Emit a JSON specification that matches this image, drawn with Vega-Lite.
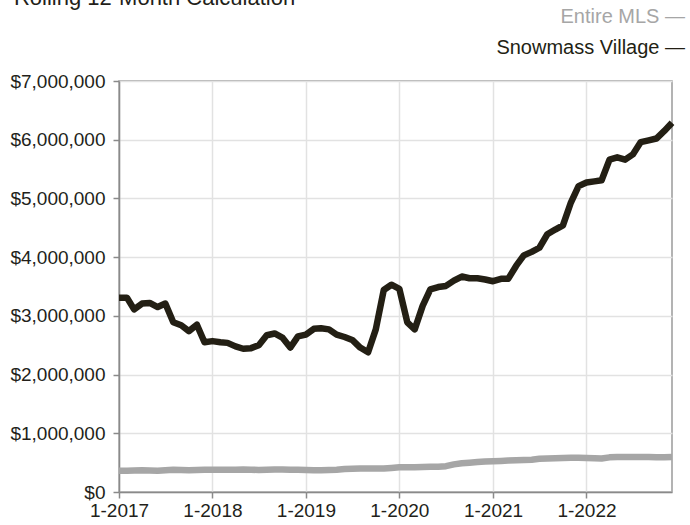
{
  "$schema": "https://vega.github.io/schema/vega-lite/v6.json",
  "autosize": "none",
  "width": 553,
  "height": 411,
  "padding": {"left": 119, "top": 81, "right": 18, "bottom": 33},
  "background": "white",
  "title": {
    "text": "Rolling 12-Month Calculation",
    "anchor": "start",
    "frame": "bounds",
    "offset": -20,
    "dx": 4,
    "baseline": "alphabetic",
    "fontSize": 22,
    "font": "Liberation Sans",
    "fontWeight": "normal",
    "color": "#231f1a"
  },
  "config": {
    "font": "Liberation Sans",
    "view": {"stroke": "#9a9a9a", "strokeWidth": 1.5}
  },
  "data": {
    "values": [
      {"d": "2017-01-01", "Snowmass Village": 3310000, "Entire MLS": 360000},
      {"d": "2017-02-01", "Snowmass Village": 3310000, "Entire MLS": 360000},
      {"d": "2017-03-01", "Snowmass Village": 3110000, "Entire MLS": 365000},
      {"d": "2017-04-01", "Snowmass Village": 3210000, "Entire MLS": 370000},
      {"d": "2017-05-01", "Snowmass Village": 3220000, "Entire MLS": 365000},
      {"d": "2017-06-01", "Snowmass Village": 3150000, "Entire MLS": 360000},
      {"d": "2017-07-01", "Snowmass Village": 3210000, "Entire MLS": 370000},
      {"d": "2017-08-01", "Snowmass Village": 2890000, "Entire MLS": 380000},
      {"d": "2017-09-01", "Snowmass Village": 2840000, "Entire MLS": 375000},
      {"d": "2017-10-01", "Snowmass Village": 2740000, "Entire MLS": 370000},
      {"d": "2017-11-01", "Snowmass Village": 2850000, "Entire MLS": 375000},
      {"d": "2017-12-01", "Snowmass Village": 2550000, "Entire MLS": 380000},
      {"d": "2018-01-01", "Snowmass Village": 2570000, "Entire MLS": 380000},
      {"d": "2018-02-01", "Snowmass Village": 2550000, "Entire MLS": 380000},
      {"d": "2018-03-01", "Snowmass Village": 2540000, "Entire MLS": 380000},
      {"d": "2018-04-01", "Snowmass Village": 2480000, "Entire MLS": 380000},
      {"d": "2018-05-01", "Snowmass Village": 2440000, "Entire MLS": 385000},
      {"d": "2018-06-01", "Snowmass Village": 2450000, "Entire MLS": 380000},
      {"d": "2018-07-01", "Snowmass Village": 2500000, "Entire MLS": 375000},
      {"d": "2018-08-01", "Snowmass Village": 2670000, "Entire MLS": 380000},
      {"d": "2018-09-01", "Snowmass Village": 2700000, "Entire MLS": 385000},
      {"d": "2018-10-01", "Snowmass Village": 2630000, "Entire MLS": 385000},
      {"d": "2018-11-01", "Snowmass Village": 2460000, "Entire MLS": 380000},
      {"d": "2018-12-01", "Snowmass Village": 2650000, "Entire MLS": 380000},
      {"d": "2019-01-01", "Snowmass Village": 2680000, "Entire MLS": 375000},
      {"d": "2019-02-01", "Snowmass Village": 2780000, "Entire MLS": 370000},
      {"d": "2019-03-01", "Snowmass Village": 2790000, "Entire MLS": 370000},
      {"d": "2019-04-01", "Snowmass Village": 2770000, "Entire MLS": 375000},
      {"d": "2019-05-01", "Snowmass Village": 2680000, "Entire MLS": 380000},
      {"d": "2019-06-01", "Snowmass Village": 2640000, "Entire MLS": 390000},
      {"d": "2019-07-01", "Snowmass Village": 2590000, "Entire MLS": 395000},
      {"d": "2019-08-01", "Snowmass Village": 2460000, "Entire MLS": 400000},
      {"d": "2019-09-01", "Snowmass Village": 2380000, "Entire MLS": 400000},
      {"d": "2019-10-01", "Snowmass Village": 2770000, "Entire MLS": 400000},
      {"d": "2019-11-01", "Snowmass Village": 3440000, "Entire MLS": 400000},
      {"d": "2019-12-01", "Snowmass Village": 3530000, "Entire MLS": 410000},
      {"d": "2020-01-01", "Snowmass Village": 3460000, "Entire MLS": 420000},
      {"d": "2020-02-01", "Snowmass Village": 2890000, "Entire MLS": 420000},
      {"d": "2020-03-01", "Snowmass Village": 2770000, "Entire MLS": 420000},
      {"d": "2020-04-01", "Snowmass Village": 3170000, "Entire MLS": 425000},
      {"d": "2020-05-01", "Snowmass Village": 3450000, "Entire MLS": 430000},
      {"d": "2020-06-01", "Snowmass Village": 3490000, "Entire MLS": 430000},
      {"d": "2020-07-01", "Snowmass Village": 3510000, "Entire MLS": 440000},
      {"d": "2020-08-01", "Snowmass Village": 3600000, "Entire MLS": 470000},
      {"d": "2020-09-01", "Snowmass Village": 3670000, "Entire MLS": 490000},
      {"d": "2020-10-01", "Snowmass Village": 3640000, "Entire MLS": 500000},
      {"d": "2020-11-01", "Snowmass Village": 3640000, "Entire MLS": 510000},
      {"d": "2020-12-01", "Snowmass Village": 3620000, "Entire MLS": 520000},
      {"d": "2021-01-01", "Snowmass Village": 3590000, "Entire MLS": 525000},
      {"d": "2021-02-01", "Snowmass Village": 3630000, "Entire MLS": 530000},
      {"d": "2021-03-01", "Snowmass Village": 3630000, "Entire MLS": 535000},
      {"d": "2021-04-01", "Snowmass Village": 3850000, "Entire MLS": 540000},
      {"d": "2021-05-01", "Snowmass Village": 4030000, "Entire MLS": 545000},
      {"d": "2021-06-01", "Snowmass Village": 4090000, "Entire MLS": 550000},
      {"d": "2021-07-01", "Snowmass Village": 4160000, "Entire MLS": 565000},
      {"d": "2021-08-01", "Snowmass Village": 4390000, "Entire MLS": 570000},
      {"d": "2021-09-01", "Snowmass Village": 4470000, "Entire MLS": 575000},
      {"d": "2021-10-01", "Snowmass Village": 4540000, "Entire MLS": 580000},
      {"d": "2021-11-01", "Snowmass Village": 4930000, "Entire MLS": 585000},
      {"d": "2021-12-01", "Snowmass Village": 5210000, "Entire MLS": 585000},
      {"d": "2022-01-01", "Snowmass Village": 5270000, "Entire MLS": 580000},
      {"d": "2022-02-01", "Snowmass Village": 5290000, "Entire MLS": 575000},
      {"d": "2022-03-01", "Snowmass Village": 5310000, "Entire MLS": 570000},
      {"d": "2022-04-01", "Snowmass Village": 5660000, "Entire MLS": 590000},
      {"d": "2022-05-01", "Snowmass Village": 5700000, "Entire MLS": 595000},
      {"d": "2022-06-01", "Snowmass Village": 5660000, "Entire MLS": 595000},
      {"d": "2022-07-01", "Snowmass Village": 5750000, "Entire MLS": 595000},
      {"d": "2022-08-01", "Snowmass Village": 5960000, "Entire MLS": 595000},
      {"d": "2022-09-01", "Snowmass Village": 5990000, "Entire MLS": 595000},
      {"d": "2022-10-01", "Snowmass Village": 6020000, "Entire MLS": 590000},
      {"d": "2022-11-01", "Snowmass Village": 6150000, "Entire MLS": 590000},
      {"d": "2022-12-01", "Snowmass Village": 6290000, "Entire MLS": 595000}
    ]
  },
  "transform": [
    {"fold": ["Entire MLS", "Snowmass Village"], "as": ["series", "value"]}
  ],
  "mark": {"type": "line", "strokeWidth": 6.5, "strokeJoin": "round", "strokeCap": "butt", "clip": false},
  "encoding": {
    "x": {
      "field": "d",
      "type": "temporal",
      "scale": {"type": "utc", "domain": ["2017-01-01", "2022-12-01"], "nice": false},
      "axis": {
        "title": null,
        "labelExpr": "utcFormat(datum.value, '%-m-%Y')",
        "values": [
          {"year": 2017, "month": 1, "date": 1, "utc": true},
          {"year": 2018, "month": 1, "date": 1, "utc": true},
          {"year": 2019, "month": 1, "date": 1, "utc": true},
          {"year": 2020, "month": 1, "date": 1, "utc": true},
          {"year": 2021, "month": 1, "date": 1, "utc": true},
          {"year": 2022, "month": 1, "date": 1, "utc": true}
        ],
        "labelFontSize": 19,
        "labelColor": "#231f1a",
        "labelPadding": 3,
        "labelFlush": false,
        "domainColor": "#8a8a8a",
        "domainWidth": 1.5,
        "tickColor": "#8a8a8a",
        "tickSize": 6,
        "tickWidth": 1.5,
        "gridColor": "#e2e2e2",
        "gridWidth": 1.5
      }
    },
    "y": {
      "field": "value",
      "type": "quantitative",
      "scale": {"domain": [0, 7000000], "nice": false},
      "axis": {
        "title": null,
        "values": [0, 1000000, 2000000, 3000000, 4000000, 5000000, 6000000, 7000000],
        "format": "$,.0f",
        "labelFontSize": 19,
        "labelColor": "#231f1a",
        "labelPadding": 8,
        "domainColor": "#8a8a8a",
        "domainWidth": 1.5,
        "tickColor": "#8a8a8a",
        "tickSize": 6,
        "tickWidth": 1.5,
        "gridColor": "#e2e2e2",
        "gridWidth": 1.5
      }
    },
    "color": {
      "field": "series",
      "type": "nominal",
      "scale": {"domain": ["Entire MLS", "Snowmass Village"], "range": ["#a6a6a6", "#231f14"]},
      "legend": {
        "title": null,
        "orient": "none",
        "legendX": 542,
        "legendY": -74,
        "labelExpr": "datum.label + ' —'",
        "labelAlign": "right",
        "labelBaseline": "middle",
        "labelFontSize": 20,
        "labelLimit": 400,
        "symbolOpacity": 0,
        "symbolSize": 1,
        "rowPadding": 11,
        "encode": {
          "labels": {
            "update": {
              "fill": {"signal": "datum.value === 'Entire MLS' ? '#a6a6a6' : '#231f14'"}
            }
          }
        }
      }
    }
  }
}
